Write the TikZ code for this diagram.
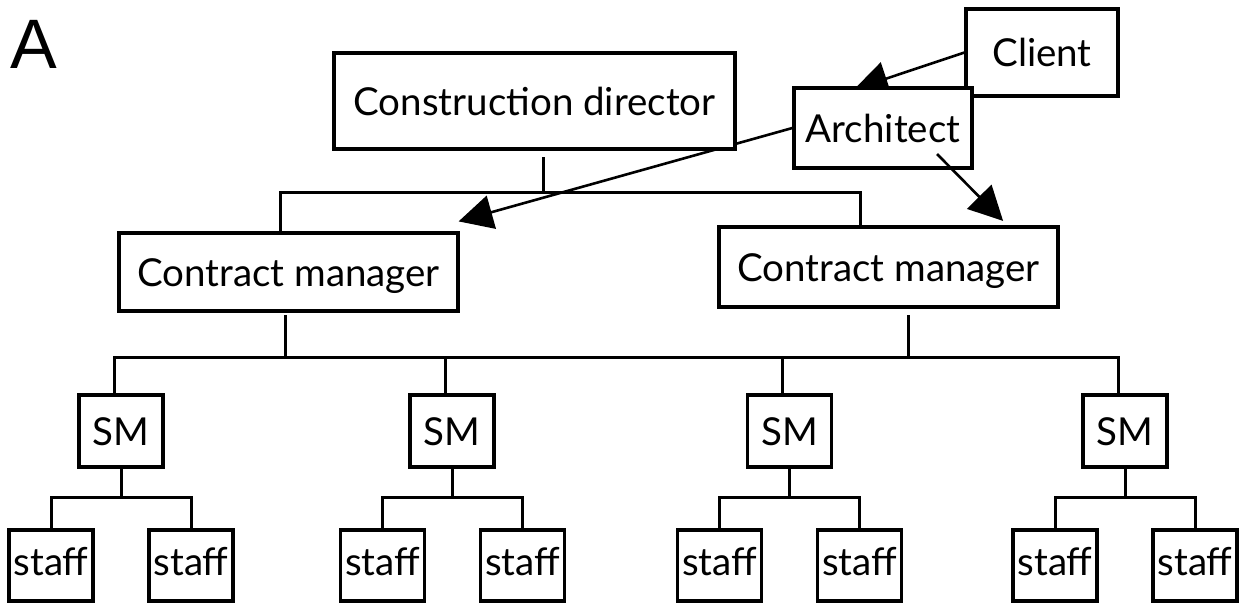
\documentclass[tikz,border=0pt]{standalone}
\usepackage{fontspec}
\setmainfont{Lato}
\newfontfamily\afont{Liberation Sans}
\usetikzlibrary{arrows.meta,calc}
\pgfdeclarelayer{bg}
\pgfsetlayers{bg,main}
\tikzset{
  box/.style={draw, line width=3.2pt, fill=white, inner sep=0pt,
    font=\fontsize{38.5}{46}\selectfont, text height=28pt, text depth=0pt},
  smbox/.style={box, minimum width=84pt, minimum height=72pt},
  staffbox/.style={box, minimum width=84pt, minimum height=71pt, text height=19pt},
  conn/.style={line width=3pt},
  arr/.style={line width=2.6pt, -{Triangle[length=34pt,width=34pt]}},
}
\begin{document}
\begin{tikzpicture}[x=1pt,y=-1pt]
\useasboundingbox (0,0) rectangle (1243,606);
\node[anchor=base west, inner sep=0pt, font=\afont\fontsize{70}{70}\selectfont] (lbl) at (10,68) {A};

\node[box, minimum width=401pt, minimum height=96pt] (cd) at (534.5,101) {Construction director};
\node[box, minimum width=152pt, minimum height=87pt] (client) at (1042,52.5) {Client};
\node[box, minimum width=178pt, minimum height=80pt] (arch) at (883,128) {Architect};
\node[box, minimum width=339pt, minimum height=78pt] (cm1) at (288.5,272) {Contract manager};
\node[box, minimum width=339pt, minimum height=80pt] (cm2) at (888.5,267) {Contract manager};

\node[smbox] (sm1) at (121,431) {SM};
\node[smbox] (sm2) at (452,431) {SM};
\node[smbox] (sm3) at (789.5,431) {SM};
\node[smbox] (sm4) at (1125,431) {SM};

\node[staffbox] (st1) at (51,565.5) {staff};
\node[staffbox] (st2) at (191,565.5) {staff};
\node[staffbox] (st3) at (382.5,565.5) {staff};
\node[staffbox] (st4) at (522.5,565.5) {staff};
\node[staffbox] (st5) at (719.5,565.5) {staff};
\node[staffbox] (st6) at (859.5,565.5) {staff};
\node[staffbox] (st7) at (1055,565.5) {staff};
\node[staffbox] (st8) at (1195,565.5) {staff};

% director to contract managers
\coordinate (tb1) at (280,192);
\coordinate (tb2) at (860,192);
\coordinate (cdj) at (543,192);
\draw[conn] (tb1 |- cm1.north) -- (tb1) -- (tb2) -- (tb2 |- cm2.north);
\draw[conn] (cdj) -- ++(0,-35);

% contract managers to site managers
\coordinate (mb1) at (114,357);
\coordinate (mb2) at (445.7,357);
\coordinate (mb3) at (782.7,357);
\coordinate (mb4) at (1118,357);
\coordinate (cmj1) at (285,357);
\coordinate (cmj2) at (908,357);
\draw[conn] (mb1 |- sm1.north) -- (mb1) -- (mb4) -- (mb4 |- sm4.north);
\draw[conn] (mb2) -- (mb2 |- sm2.north);
\draw[conn] (mb3) -- (mb3 |- sm3.north);
\draw[conn] (cmj1) -- ++(0,-42);
\draw[conn] (cmj2) -- ++(0,-42);

% site managers to staff
\foreach \s/\a/\b in {1/1/2, 2/3/4, 3/5/6, 4/7/8}{
  \coordinate (p\s) at ($(sm\s.south)+(0,29)$);
  \draw[conn] (sm\s.south) -- (p\s);
  \draw[conn] (st\a.north) |- (p\s) -| (st\b.north);
}

% arrows
\begin{pgfonlayer}{bg}
\draw[arr] (client.west) -- ($(arch.north west)!0.34!(arch.north east)+(0,3)$);
\draw[arr] (arch.west) -- ($(cm1.north east)+(-1,-10)$);
\end{pgfonlayer}
\draw[arr] ($(arch.center)+(54,26)$) -- ($(cm2.north east)+(-56.5,-4.5)$);
\end{tikzpicture}
\end{document}
